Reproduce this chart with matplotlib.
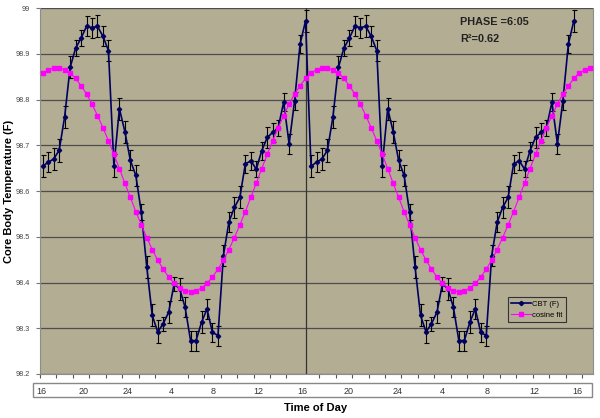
import numpy as np
import matplotlib
matplotlib.use("Agg")
import matplotlib.pyplot as plt
from matplotlib.patches import Rectangle

plt.rcParams['font.family'] = ['Liberation Sans', 'DejaVu Sans']

# core body temperature, 30 min samples, double plotted
cbt = [98.654, 98.663, 98.670, 98.689, 98.762, 98.870, 98.912, 98.934, 98.960, 98.957,
       98.960, 98.938, 98.907, 98.655, 98.780, 98.730, 98.667, 98.634, 98.554, 98.434,
       98.328, 98.292, 98.310, 98.335, 98.397, 98.386, 98.346, 98.273, 98.273, 98.313,
       98.342, 98.291, 98.284, 98.459, 98.532, 98.564, 98.586, 98.659, 98.666, 98.648,
       98.688, 98.717, 98.728, 98.738, 98.794, 98.703, 98.797, 98.921, 98.972,
       98.654, 98.663, 98.670, 98.689, 98.762, 98.870, 98.912, 98.934, 98.960, 98.957,
       98.960, 98.938, 98.907, 98.655, 98.780, 98.730, 98.667, 98.634, 98.554, 98.434,
       98.328, 98.292, 98.310, 98.335, 98.397, 98.386, 98.346, 98.273, 98.273, 98.313,
       98.342, 98.291, 98.284, 98.459, 98.532, 98.564, 98.586, 98.659, 98.666, 98.648,
       98.688, 98.717, 98.728, 98.738, 98.794, 98.703, 98.797, 98.921, 98.972]
cbt_err = [0.024, 0.022, 0.024, 0.025, 0.024, 0.024, 0.018, 0.018, 0.022, 0.022,
           0.024, 0.022, 0.022, 0.025, 0.024, 0.024, 0.022, 0.022, 0.018, 0.025,
           0.024, 0.025, 0.015, 0.024, 0.015, 0.024, 0.022, 0.022, 0.022, 0.024,
           0.022, 0.020, 0.022, 0.024, 0.022, 0.022, 0.024, 0.020, 0.020, 0.018,
           0.020, 0.022, 0.020, 0.018, 0.020, 0.022, 0.020, 0.020, 0.024,
           0.024, 0.022, 0.024, 0.025, 0.024, 0.024, 0.018, 0.018, 0.022, 0.022,
           0.024, 0.022, 0.022, 0.025, 0.024, 0.024, 0.022, 0.022, 0.018, 0.025,
           0.024, 0.025, 0.015, 0.024, 0.015, 0.024, 0.022, 0.022, 0.022, 0.024,
           0.022, 0.020, 0.022, 0.024, 0.022, 0.022, 0.024, 0.020, 0.020, 0.018,
           0.020, 0.022, 0.020, 0.018, 0.020, 0.022, 0.020, 0.020, 0.024]

# cosine fit
fit = [98.858, 98.865, 98.869, 98.869, 98.865, 98.858, 98.846, 98.830, 98.812, 98.790,
       98.765, 98.738, 98.710, 98.680, 98.649, 98.617, 98.586, 98.555, 98.526, 98.498,
       98.472, 98.449, 98.429, 98.412, 98.398, 98.388, 98.382, 98.380, 98.382, 98.388,
       98.398, 98.412, 98.429, 98.449, 98.472, 98.498, 98.526, 98.555, 98.586, 98.617,
       98.649, 98.680, 98.710, 98.738, 98.765, 98.790, 98.812, 98.830, 98.846,
       98.858, 98.865, 98.869, 98.869, 98.865, 98.858, 98.846, 98.830, 98.812, 98.790,
       98.765, 98.738, 98.710, 98.680, 98.649, 98.617, 98.586, 98.555, 98.526, 98.498,
       98.472, 98.449, 98.429, 98.412, 98.398, 98.388, 98.382, 98.380, 98.382, 98.388,
       98.398, 98.412, 98.429, 98.449, 98.472, 98.498, 98.526, 98.555, 98.586, 98.617,
       98.649, 98.680, 98.710, 98.738, 98.765, 98.790, 98.812, 98.830, 98.846,
       98.858, 98.865, 98.869]

hour_labels = ["16", "20", "24", "4", "8", "12", "16", "20", "24", "4", "8", "12", "16"]
label_pos = [-0.2, 7.5, 15.5, 23.5, 31.1, 39.3, 47.5, 55.9, 64.8, 73.0, 81.2, 89.7, 97.7]

bg = '#B3AD93'

fig = plt.figure(figsize=(6, 4.18), dpi=100)
ax = fig.add_axes([40/600, 1-374/418, 553/600, 366/418])
ax.set_facecolor(bg)

x_cbt = np.arange(len(cbt))
x_fit = np.arange(len(fit))

ax.errorbar(x_cbt, cbt, yerr=cbt_err, fmt='none', ecolor='black',
            elinewidth=0.8, capsize=1.8, capthick=0.8, zorder=2)
ax.plot(x_cbt, cbt, color='#000060', lw=1.2, marker='D', ms=2.2,
        label='CBT (F)', zorder=3)
ax.plot(x_fit, fit, color='#FF00FF', lw=0.8, marker='s', ms=3.3,
        label='cosine fit', zorder=4)

ax.axvline(48, color='#333333', lw=0.9, zorder=1)

ax.set_xlim(-0.5, 100.5)
ax.set_ylim(98.2, 99.0)
ax.set_yticks(np.arange(98.2, 99.01, 0.1))
ax.set_yticklabels(['98.2', '98.3', '98.4', '98.5', '98.6', '98.7', '98.8', '98.9', '99'])
ax.yaxis.grid(True, color='#4d4d4d', lw=0.9)
ax.set_axisbelow(True)

ax.set_xticks(label_pos)
ax.set_xticklabels(hour_labels)
ax.set_xticks(np.arange(-0.5, 101, 3), minor=True)
ax.tick_params(axis='x', which='major', length=0, pad=9, labelsize=6.5, labelcolor='#333333')
ax.tick_params(axis='x', which='minor', length=3, color='#555555', width=0.8)
ax.tick_params(axis='y', length=3, width=0.8, color='#777777', pad=4,
               labelsize=5.2, labelcolor='#444444')

for s in ['left', 'bottom', 'right']:
    ax.spines[s].set_color('#8c8c8c')
    ax.spines[s].set_linewidth(0.8)
ax.spines['top'].set_visible(False)

fig.add_artist(Rectangle((33/600, 1-397/418), (592-33)/600, 14.5/418,
                         transform=fig.transFigure, facecolor='white',
                         edgecolor='#888888', lw=1, zorder=-1))

fig.text(9/600, 1-191/418, 'Core Body Temperature (F)', rotation=90,
         ha='center', va='center', fontsize=8, fontweight='bold')
fig.text(316/600, 1-408/418, 'Time of Day', ha='center', va='center',
         fontsize=8, fontweight='bold')

ax.text(0.7595, 0.962, 'PHASE =6:05', transform=ax.transAxes, ha='left',
        va='center', fontsize=7.8, fontweight='bold', color='#222222')
ax.text(0.7595, 0.915, 'R²=0.62', transform=ax.transAxes, ha='left',
        va='center', fontsize=7.8, fontweight='bold', color='#222222')

leg = ax.legend(loc='lower left', bbox_to_anchor=(0.846, 0.142), fontsize=5.5,
                frameon=True, fancybox=False, handlelength=2.6, borderpad=0.4,
                labelspacing=0.5, handletextpad=0.2, borderaxespad=0)
leg.get_frame().set_facecolor(bg)
leg.get_frame().set_edgecolor('#333333')
leg.get_frame().set_linewidth(0.8)
leg.get_frame().set_alpha(1)

fig.savefig('out.png', dpi=100)
